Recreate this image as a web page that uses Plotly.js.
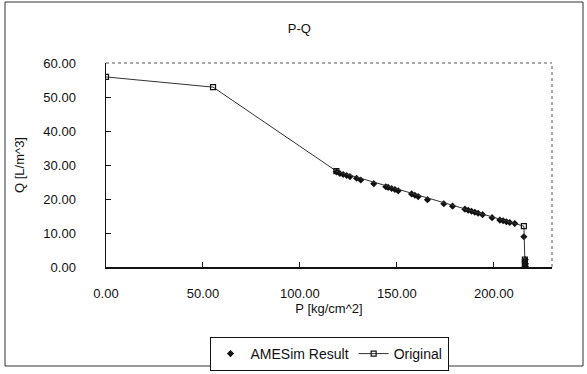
<!DOCTYPE html>
<html>
<head>
<meta charset="utf-8">
<script src="https://cdn.plot.ly/plotly-3.0.1.min.js"></script>
<style>html,body{margin:0;padding:0;background:#fff;}#chart{width:587px;height:374px;}</style>
</head>
<body>
<div id="chart"></div>
<script>
// Original series (P [kg/cm^2], Q [L/m^3])
const originalP = [0, 55.2, 118.8, 215.5, 216.0, 216.0, 216.2];
const originalQ = [55.9, 52.9, 28.2, 12.0, 2.2, 1.0, 0.2];

// AMESim result series
const amesimP = [118.9, 120.6, 122.3, 124.1, 125.8, 129.2, 131.4, 138.1, 144.3, 145.5, 147.3, 149.0, 150.7,
  157.6, 159.3, 161.0, 165.8, 174.2, 178.7, 185.1, 186.8, 188.5, 190.2, 191.9, 194.2, 199.1,
  203.1, 204.8, 206.5, 208.2, 210.8, 215.5, 216.2, 216.2, 216.2];
const amesimQ = [28.0, 27.5, 27.2, 26.9, 26.6, 26.1, 25.6, 24.5, 23.6, 23.4, 23.1, 22.8, 22.4,
  21.5, 21.1, 20.7, 19.8, 18.6, 17.9, 17.0, 16.7, 16.4, 16.1, 15.8, 15.4, 14.5,
  13.8, 13.6, 13.3, 13.1, 12.8, 8.9, 2.1, 1.1, 0.1];

const titleText = "P-Q";
const xTitle = "P [kg/cm^2]";
const yTitle = "Q [L/m^3]";

const font = "Liberation Sans, Arial, sans-serif";

const traces = [
  {
    x: amesimP, y: amesimQ, name: "AMESim Result", type: "scatter", mode: "markers",
    marker: {symbol: "diamond", size: 5.5, color: "#111"}
  },
  {
    x: originalP, y: originalQ, name: "Original", type: "scatter", mode: "lines+markers",
    line: {color: "#333", width: 1},
    marker: {symbol: "square-open", size: 5, color: "#111", line: {width: 1.2, color: "#111"}}
  }
];

const pw = 446, ph = 204, L = 106, T = 63;
function px(x) { return (x - L) / pw; }
function py(y) { return (T + ph - y) / ph; }

const layout = {
  width: 587, height: 374,
  margin: {l: 106, r: 35, t: 63, b: 107, autoexpand: false},
  paper_bgcolor: "#fff", plot_bgcolor: "#fff",
  font: {family: font, size: 13, color: "#111"},
  title: {text: titleText, x: 0.51, xref: "container", y: 1 - 28/374, yref: "container", yanchor: "middle",
    font: {family: font, size: 13, color: "#111"}},
  showlegend: true,
  legend: {orientation: "h", x: 0.5, xanchor: "center", y: py(337), yanchor: "top",
    bordercolor: "#111", borderwidth: 1, bgcolor: "#fff",
    font: {family: font, size: 14, color: "#111"}, itemwidth: 30, tracegroupgap: 0},
  xaxis: {
    range: [0, 230], dtick: 50, tick0: 0, tickformat: ".2f", automargin: false,
    showgrid: false, zeroline: false, showline: true, linecolor: "#111", linewidth: 1.5,
    ticks: "inside", ticklen: 5, tickcolor: "#111",
    ticklabelstandoff: 14,
    title: {text: xTitle, standoff: 4, font: {family: font, size: 13, color: "#111"}},
    fixedrange: true
  },
  yaxis: {
    range: [0, 60], dtick: 10, tick0: 0, tickformat: ".2f", automargin: false,
    showgrid: false, zeroline: false, showline: true, linecolor: "#111", linewidth: 1.5,
    ticks: "inside", ticklen: 5, tickcolor: "#111",
    ticklabelstandoff: 26,
    title: {text: yTitle, standoff: 16, font: {family: font, size: 13, color: "#111"}},
    fixedrange: true
  },
  shapes: [
    {type: "line", xref: "paper", yref: "paper", x0: 0, x1: 1, y0: 1, y1: 1,
      line: {color: "#555", width: 1, dash: "dot"}},
    {type: "line", xref: "paper", yref: "paper", x0: 1, x1: 1, y0: 0, y1: 1,
      line: {color: "#555", width: 1, dash: "dot"}},
    {type: "rect", xref: "paper", yref: "paper", x0: px(5), x1: px(583), y0: py(366), y1: py(2),
      line: {color: "#333", width: 1}, fillcolor: "rgba(0,0,0,0)", layer: "below"}
  ]
};

Plotly.newPlot("chart", traces, layout, {staticPlot: true, displayModeBar: false});
</script>
</body>
</html>
